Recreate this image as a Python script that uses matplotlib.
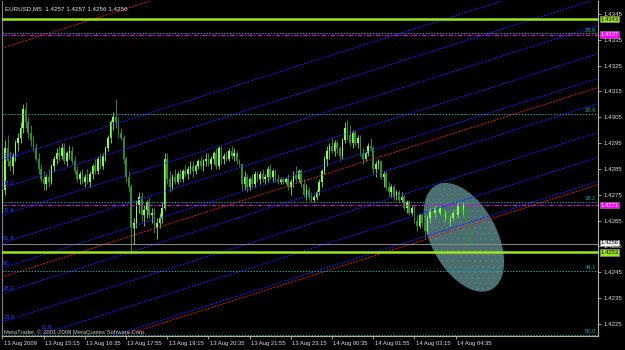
import matplotlib
matplotlib.use("Agg")
import matplotlib.pyplot as plt
import numpy as np
from matplotlib.patches import Polygon
from matplotlib.transforms import blended_transform_factory, ScaledTranslation

# ---------------- data ----------------
opens = [
    1.4271, 1.4277, 1.4293, 1.4288, 1.4286, 1.4290, 1.4295, 1.4297, 1.4301, 1.4308,
    1.4303, 1.4299, 1.4296, 1.4293, 1.4289, 1.4285, 1.4281, 1.4279, 1.4282, 1.4280,
    1.4286, 1.4289, 1.4291, 1.4290, 1.4293, 1.4288, 1.4291, 1.4292, 1.4288, 1.4284,
    1.4281, 1.4283, 1.4280, 1.4282, 1.4280, 1.4283, 1.4286, 1.4284, 1.4289, 1.4286,
    1.4290,
    1.4293, 1.4297, 1.4303, 1.4305, 1.4303, 1.4299, 1.4297, 1.4289, 1.4282, 1.4278,
    1.4262, 1.4264, 1.4271, 1.4274, 1.4267, 1.4269, 1.4272, 1.4267, 1.4268, 1.4262,
    1.4264, 1.4266, 1.4270, 1.4289, 1.4281, 1.4278, 1.4282, 1.4280, 1.4283, 1.4281,
    1.4284, 1.4283, 1.4285, 1.4286, 1.4284, 1.4286,
    1.4288, 1.4286, 1.4288, 1.4289, 1.4287, 1.4289, 1.4291, 1.4286, 1.4293, 1.4289,
    1.4290, 1.4289, 1.4292, 1.4290, 1.4291, 1.4288, 1.4287, 1.4279, 1.4282, 1.4278,
    1.4281, 1.4279, 1.4283, 1.4281, 1.4283, 1.4281, 1.4282, 1.4285, 1.4282, 1.4284,
    1.4281, 1.4280, 1.4281, 1.4280, 1.4281, 1.4278, 1.4280, 1.4283, 1.4281, 1.4284,
    1.4279, 1.4275, 1.4277, 1.4274, 1.4273, 1.4274, 1.4276, 1.4280, 1.4284, 1.4289,
    1.4292, 1.4294, 1.4292, 1.4295, 1.4293, 1.4290, 1.4296, 1.4301, 1.4298, 1.4295,
    1.4299, 1.4295, 1.4297, 1.4291, 1.4289, 1.4291, 1.4294, 1.4293, 1.4285, 1.4287,
    1.4288, 1.4282, 1.4283, 1.4278, 1.4276, 1.4278, 1.4274, 1.4276, 1.4273, 1.4274,
    1.4270, 1.4272, 1.4268, 1.4270, 1.4265, 1.4263, 1.4267, 1.4264, 1.4261, 1.4266,
    1.4269, 1.4268, 1.4270, 1.4268, 1.4270, 1.4266, 1.4268, 1.4265, 1.4266, 1.4268,
    1.4267, 1.4271, 1.4269, 1.4271, 1.4266, 1.4257,
]
highs = [
    1.4277, 1.4296, 1.4298, 1.4292, 1.4291, 1.4296, 1.4299, 1.4303, 1.4310, 1.4311,
    1.4305, 1.4302, 1.4298, 1.4295, 1.4291, 1.4287, 1.4284, 1.4283, 1.4285, 1.4287,
    1.4290, 1.4293, 1.4294, 1.4295, 1.4295, 1.4292, 1.4294, 1.4294, 1.4290, 1.4286,
    1.4284, 1.4285, 1.4283, 1.4285, 1.4284, 1.4287, 1.4289, 1.4290, 1.4291, 1.4291,
    1.4294,
    1.4298, 1.4304, 1.4307, 1.4312, 1.4305, 1.4301, 1.4298, 1.4290, 1.4284, 1.4279,
    1.4266, 1.4273, 1.4276, 1.4276, 1.4271, 1.4273, 1.4274, 1.4270, 1.4270, 1.4266,
    1.4268, 1.4272, 1.4291, 1.4291, 1.4284, 1.4283, 1.4285, 1.4284, 1.4285, 1.4285,
    1.4287, 1.4286, 1.4288, 1.4288, 1.4287, 1.4289,
    1.4290, 1.4289, 1.4291, 1.4291, 1.4290, 1.4292, 1.4293, 1.4294, 1.4294, 1.4291,
    1.4292, 1.4293, 1.4294, 1.4293, 1.4292, 1.4289, 1.4287, 1.4284, 1.4283, 1.4282,
    1.4283, 1.4284, 1.4284, 1.4284, 1.4285, 1.4283, 1.4286, 1.4287, 1.4285, 1.4285,
    1.4283, 1.4282, 1.4282, 1.4282, 1.4283, 1.4281, 1.4284, 1.4286, 1.4285, 1.4285,
    1.4281, 1.4279, 1.4278, 1.4276, 1.4275, 1.4277, 1.4281, 1.4285, 1.4290, 1.4294,
    1.4295, 1.4297, 1.4296, 1.4296, 1.4294, 1.4297, 1.4303, 1.4304, 1.4302, 1.4300,
    1.4300, 1.4298, 1.4298, 1.4293, 1.4292, 1.4295, 1.4297, 1.4294, 1.4288, 1.4289,
    1.4288, 1.4284, 1.4284, 1.4280, 1.4279, 1.4279, 1.4277, 1.4277, 1.4276, 1.4275,
    1.4273, 1.4273, 1.4271, 1.4271, 1.4267, 1.4268, 1.4268, 1.4266, 1.4267, 1.4270,
    1.4272, 1.4271, 1.4271, 1.4271, 1.4270, 1.4269, 1.4269, 1.4267, 1.4269, 1.4270,
    1.4272, 1.4273, 1.4272, 1.4272, 1.4266, 1.4257,
]
lows = [
    1.4268, 1.4275, 1.4286, 1.4284, 1.4283, 1.4288, 1.4292, 1.4295, 1.4299, 1.4301,
    1.4297, 1.4294, 1.4292, 1.4288, 1.4283, 1.4280, 1.4277, 1.4277, 1.4278, 1.4279,
    1.4284, 1.4287, 1.4288, 1.4289, 1.4287, 1.4286, 1.4289, 1.4287, 1.4283, 1.4280,
    1.4279, 1.4279, 1.4278, 1.4279, 1.4278, 1.4281, 1.4283, 1.4283, 1.4285, 1.4285,
    1.4288,
    1.4292, 1.4295, 1.4300, 1.4301, 1.4297, 1.4296, 1.4287, 1.4280, 1.4276, 1.4252,
    1.4256, 1.4262, 1.4268, 1.4265, 1.4263, 1.4266, 1.4266, 1.4264, 1.4260, 1.4258,
    1.4262, 1.4264, 1.4269, 1.4279, 1.4276, 1.4277, 1.4279, 1.4279, 1.4280, 1.4280,
    1.4282, 1.4281, 1.4283, 1.4282, 1.4283, 1.4285,
    1.4285, 1.4284, 1.4286, 1.4286, 1.4285, 1.4287, 1.4285, 1.4285, 1.4287, 1.4287,
    1.4288, 1.4288, 1.4289, 1.4288, 1.4287, 1.4286, 1.4277, 1.4277, 1.4276, 1.4277,
    1.4278, 1.4278, 1.4280, 1.4279, 1.4280, 1.4279, 1.4280, 1.4281, 1.4280, 1.4280,
    1.4279, 1.4279, 1.4279, 1.4279, 1.4277, 1.4275, 1.4278, 1.4280, 1.4280, 1.4278,
    1.4274, 1.4273, 1.4273, 1.4272, 1.4272, 1.4273, 1.4275, 1.4278, 1.4283, 1.4286,
    1.4289, 1.4291, 1.4290, 1.4291, 1.4288, 1.4289, 1.4295, 1.4296, 1.4294, 1.4293,
    1.4294, 1.4293, 1.4290, 1.4287, 1.4288, 1.4290, 1.4292, 1.4283, 1.4282, 1.4285,
    1.4281, 1.4278, 1.4277, 1.4274, 1.4274, 1.4273, 1.4273, 1.4272, 1.4272, 1.4269,
    1.4268, 1.4267, 1.4267, 1.4264, 1.4261, 1.4262, 1.4263, 1.4258, 1.4260, 1.4264,
    1.4267, 1.4266, 1.4267, 1.4267, 1.4265, 1.4265, 1.4264, 1.4263, 1.4265, 1.4266,
    1.4266, 1.4268, 1.4267, 1.4265, 1.4257, 1.4256,
]
closes = [
    1.4277, 1.4293, 1.4288, 1.4286, 1.4290, 1.4295, 1.4297, 1.4301, 1.4308, 1.4303,
    1.4299, 1.4296, 1.4293, 1.4289, 1.4285, 1.4281, 1.4279, 1.4282, 1.4280, 1.4286,
    1.4289, 1.4291, 1.4290, 1.4293, 1.4288, 1.4291, 1.4292, 1.4288, 1.4284, 1.4281,
    1.4283, 1.4280, 1.4282, 1.4280, 1.4283, 1.4286, 1.4284, 1.4289, 1.4286, 1.4290,
    1.4293,
    1.4297, 1.4303, 1.4305, 1.4303, 1.4299, 1.4297, 1.4289, 1.4282, 1.4278, 1.4262,
    1.4264, 1.4271, 1.4274, 1.4267, 1.4269, 1.4272, 1.4267, 1.4268, 1.4262, 1.4264,
    1.4266, 1.4270, 1.4289, 1.4281, 1.4278, 1.4282, 1.4280, 1.4283, 1.4281, 1.4284,
    1.4283, 1.4285, 1.4286, 1.4284, 1.4286, 1.4288,
    1.4286, 1.4288, 1.4289, 1.4287, 1.4289, 1.4291, 1.4286, 1.4293, 1.4289, 1.4290,
    1.4289, 1.4292, 1.4290, 1.4291, 1.4288, 1.4287, 1.4279, 1.4282, 1.4278, 1.4281,
    1.4279, 1.4283, 1.4281, 1.4283, 1.4281, 1.4282, 1.4285, 1.4282, 1.4284, 1.4281,
    1.4280, 1.4281, 1.4280, 1.4281, 1.4278, 1.4280, 1.4283, 1.4281, 1.4284, 1.4279,
    1.4275, 1.4277, 1.4274, 1.4273, 1.4274, 1.4276, 1.4280, 1.4284, 1.4289, 1.4292,
    1.4294, 1.4292, 1.4295, 1.4293, 1.4290, 1.4296, 1.4301, 1.4298, 1.4295, 1.4299,
    1.4295, 1.4297, 1.4291, 1.4289, 1.4291, 1.4294, 1.4293, 1.4285, 1.4287, 1.4288,
    1.4282, 1.4283, 1.4278, 1.4276, 1.4278, 1.4274, 1.4276, 1.4273, 1.4274, 1.4270,
    1.4272, 1.4268, 1.4270, 1.4265, 1.4263, 1.4267, 1.4264, 1.4261, 1.4266, 1.4269,
    1.4268, 1.4270, 1.4268, 1.4270, 1.4266, 1.4268, 1.4265, 1.4266, 1.4268, 1.4267,
    1.4271, 1.4269, 1.4271, 1.4266, 1.4258, 1.4256,
]

time_labels = ["13 Aug 2009", "13 Aug 15:15", "13 Aug 16:35", "13 Aug 17:55",
               "13 Aug 19:15", "13 Aug 20:35", "13 Aug 21:55", "13 Aug 23:15",
               "14 Aug 00:35", "14 Aug 01:55", "14 Aug 03:15", "14 Aug 04:35"]
time_label_bars = [0, 16, 32, 48, 64, 80, 96, 112, 128, 144, 160, 176]
price_ticks = [1.4225, 1.4235, 1.4245, 1.4255, 1.4265, 1.4275, 1.4285,
               1.4295, 1.4305, 1.4315, 1.4325, 1.4335, 1.4345]

green_levels = [1.4343, 1.4253]
magenta_levels = [1.4337, 1.4271]
fibo_levels = [1.43375, 1.43063, 1.42722, 1.42456, 1.42206]
fibo_names = ["23.6", "30.9", "38.2", "44.1", "50.0"]
bid_price = 1.4256

channel_slope = 3.17e-5          # price change per bar
blue_channel = [1.42885, 1.42776, 1.42672, 1.42563, 1.42467,
                1.42370, 1.42258, 1.42161, 1.42068]
blue_names = ["100.0", "88.2", "76.4", "61.8", "50", "38.2", "23.6", "11.8", ""]
red_channel = [1.43318, 1.42432, 1.42056]

ellipse_center = (179.2, 1.42585)   # (bar, price)
ellipse_axes_px = (59, 33)           # semi-axes in pixels
ellipse_angle = -62                  # degrees

title_text = "EURUSD,M5  1.4257 1.4257 1.4256 1.4256"
copyright_text = "MetaTrader, \u00a9 2001-2008 MetaQuotes Software Corp."

# ---------------- figure ----------------
plt.rcParams["hatch.linewidth"] = 0.3
W, H = 625, 350
fig = plt.figure(figsize=(W / 100, H / 100), dpi=100, facecolor="black")
ax_l, ax_r, ax_t, ax_b = 1.7, 598, 1, 336
ax = fig.add_axes([ax_l / W, 1 - ax_b / H, (ax_r - ax_l) / W, (ax_b - ax_t) / H])
ax.set_facecolor("black")

x0, x1 = -0.31, 231.3
y0, y1 = 1.42203, 1.43500
ax.set_xlim(x0, x1)
ax.set_ylim(y0, y1)

FONT = ["Liberation Sans", "DejaVu Sans"]
FS = 4.2
frame_col = "#b4b496"
for s in ["left", "bottom", "right"]:
    ax.spines[s].set_color(frame_col)
    ax.spines[s].set_linewidth(0.8)
ax.spines["top"].set_visible(False)
ax.spines["left"].set_color("#808080")

n = len(closes)
assert len(opens) == len(highs) == len(lows) == n
xb = np.arange(n)
o = np.array(opens); c = np.array(closes)
hi = np.array(highs); lo = np.array(lows)
up = c >= o
body_col = np.where(up, "#84ff50", "#2f8f2f")
wick_col = np.where(up, "#6ee848", "#3a9a3a")

ax.vlines(xb, lo, hi, colors=wick_col, lw=0.6, zorder=3)
heights = np.maximum(np.abs(c - o), 0.00003)
ax.bar(xb, heights, bottom=np.minimum(o, c), width=0.62, color=body_col,
       linewidth=0, zorder=4)

# ellipse (built in pixel proportions, converted to data)
ax_w_px = (ax_r - ax_l)
ax_h_px = (ax_b - ax_t)
px_per_bar = ax_w_px / (x1 - x0)
px_per_price = ax_h_px / (y1 - y0)
t = np.linspace(0, 2 * np.pi, 200)
a, b = ellipse_axes_px
phi = np.deg2rad(ellipse_angle)
ex = a * np.cos(t) * np.cos(phi) - b * np.sin(t) * np.sin(phi)
ey = a * np.cos(t) * np.sin(phi) + b * np.sin(t) * np.cos(phi)
pts = np.column_stack([ellipse_center[0] + ex / px_per_bar,
                       ellipse_center[1] + ey / px_per_price])
ell = Polygon(pts, closed=True, facecolor="#4a6e70", edgecolor="#5f8788",
              linewidth=0, hatch="...", zorder=2)
ax.add_patch(ell)

# channel lines
xs = np.array([x0, x1])
dot = (0, (2.0, 1.2))
for p0, name in zip(blue_channel, blue_names):
    ax.plot(xs, p0 + channel_slope * xs, color="#1c1cff", lw=0.7, ls=dot, zorder=5)
    if name:
        xv = max(x0, (y0 - p0) / channel_slope)
        xt = xv + (0.6 if xv == x0 else 1.5)
        off = 0.00005 if xv == x0 else 0.00017
        ax.text(xt, p0 + channel_slope * xt + off, name, color="#2b3cff",
                fontsize=FS, family=FONT, ha="left", va="bottom", zorder=6)
for p0 in red_channel:
    ax.plot(xs, p0 + channel_slope * xs, color="#d81c1c", lw=0.7, ls=dot, zorder=5)

# horizontal levels
for lv, nm in zip(fibo_levels, fibo_names):
    ax.axhline(lv, color="#1aa3a3", lw=0.7, ls=(0, (1.5, 1.5)), zorder=6)
    ax.text(x1 - 0.6, lv + 0.00003, nm, color="#1aa3a3", fontsize=FS,
            family=FONT, ha="right", va="bottom", zorder=7)
for lv in magenta_levels:
    ax.axhline(lv, color="#e000e0", lw=0.8, ls=(0, (4, 1.5, 1.2, 1.5)), zorder=6)
ax.axhline(bid_price, color="#8c8c8c", lw=0.7, zorder=6)
for lv in green_levels:
    ax.axhline(lv, color="#9ee619", lw=1.8, zorder=7)

# axes ticks
ax.yaxis.tick_right()
ax.set_yticks(price_ticks)
ax.set_yticklabels([f"{p:.4f}" for p in price_ticks])
ax.set_xticks(time_label_bars)
ax.set_xticklabels(time_labels)
ax.tick_params(axis="y", colors=frame_col, length=2.5, width=0.6, pad=1.5,
               labelcolor="#dcdcdc", labelsize=FS + 0.2)
ax.tick_params(axis="x", colors=frame_col, length=2.5, width=0.6, pad=1.0,
               labelcolor="#dcdcdc", labelsize=FS)
for lab in ax.get_xticklabels():
    lab.set_horizontalalignment("left")
    lab.set_family(FONT)
    lab.set_transform(lab.get_transform() + ScaledTranslation(1.0 / 72, 0, fig.dpi_scale_trans))
for lab in ax.get_yticklabels():
    lab.set_family(FONT)

# price tags on the right axis (small vertical nudge keeps adjacent tags apart)
tr = blended_transform_factory(ax.transAxes, ax.transData)
tags = [(green_levels[0], "#9ee619", "black", 0.0),
        (magenta_levels[0], "#ff00ff", "white", 0.0),
        (magenta_levels[1], "#ff00ff", "white", 0.0),
        (bid_price, "#f4f4f4", "black", 0.6),
        (green_levels[1], "#9ee619", "black", -0.6)]
for lv, bg, fg, nudge in tags:
    t_ = ax.text(1.004, lv, f"{lv:.4f}", transform=tr, ha="left", va="center",
                 fontsize=FS, family=FONT, color=fg, zorder=10, clip_on=False,
                 bbox=dict(boxstyle="square,pad=0.12", fc=bg, ec="#909090", lw=0.4))
    if nudge:
        t_.set_transform(tr + ScaledTranslation(0, nudge / 72, fig.dpi_scale_trans))

# texts
ax.text(0.006, 0.985, title_text, transform=ax.transAxes, color="#e6e6e6",
        fontsize=FS + 0.3, family=FONT, ha="left", va="top", zorder=10)
ax.text(0.004, 0.004, copyright_text, transform=ax.transAxes, color="#c8c8c8",
        fontsize=FS, family=FONT, ha="left", va="bottom", zorder=10)

fig.savefig("out.png", dpi=100, facecolor="black")
